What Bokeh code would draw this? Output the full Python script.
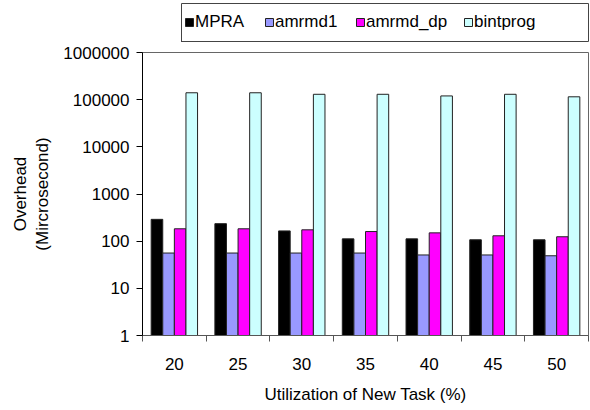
from bokeh.plotting import figure
from bokeh.layouts import column
from bokeh.models import (Range1d, FixedTicker, NumeralTickFormatter, Legend, LegendItem,
                          ColumnDataSource)
from bokeh.embed import file_html
from bokeh.resources import INLINE
import numpy as np

categories = ["20", "25", "30", "35", "40", "45", "50"]
series_names = ["MPRA", "amrmd1", "amrmd_dp", "bintprog"]
mpra = [290, 235, 165, 112, 112, 107, 107]
amrmd1 = [56, 56, 56, 56, 51, 51, 49]
amrmd_dp = [183, 183, 174, 160, 150, 130, 124]
bintprog = [140000, 140000, 130000, 130000, 120000, 130000, 115000]
y_ticks = [1, 10, 100, 1000, 10000, 100000, 1000000]

colors = ["#000000", "#9999FF", "#FF00FF", "#CCFFFF"]
FONT = "Liberation Sans"
FS = "17px"
BAR_LINE = "#222222"
# horizontal screen offsets (px, from the legend box's left edge) of each legend entry
legend_x = [3, 83, 174, 282]

# ---- legend strip (its frame outline is the legend box) ----
lg = figure(width=590, height=44, output_backend="svg", toolbar_location=None,
            x_range=Range1d(0, 1), y_range=Range1d(0, 1),
            x_axis_location=None, y_axis_location=None, frame_align=False,
            min_border_left=181, min_border_right=2, min_border_top=3, min_border_bottom=3)
lg.xgrid.visible = False
lg.ygrid.visible = False
lg.outline_line_color = "#444444"
lg.outline_line_width = 1
for name, col, lx in zip(series_names, colors, legend_x):
    # placeholder glyph outside the visible range: only its legend swatch is seen
    r = lg.vbar(x=[-5], top=[-5], bottom=[-6], width=0.1,
                fill_color=col, line_color=BAR_LINE, line_width=1)
    leg = Legend(items=[LegendItem(label=name, renderers=[r])], orientation="horizontal",
                 location=(lx, 9),
                 label_text_font=FONT, label_text_font_size=FS, label_text_color="black",
                 glyph_width=10, glyph_height=10, label_standoff=1, spacing=0,
                 padding=0, margin=0, label_height=20,
                 border_line_alpha=0, background_fill_alpha=0)
    lg.add_layout(leg, "center")

# ---- main chart ----
p = figure(width=590, height=366, output_backend="svg", toolbar_location=None,
           y_axis_type="log", x_range=Range1d(0, len(categories)),
           y_range=Range1d(1, 1000000), frame_align=False,
           min_border_left=142, min_border_right=2, min_border_top=8, min_border_bottom=75)

centers = np.arange(len(categories)) + 0.5
bw = 0.182
offsets = [-1.5 * bw, -0.5 * bw, 0.5 * bw, 1.5 * bw]
for vals, off, col in zip([mpra, amrmd1, amrmd_dp, bintprog], offsets, colors):
    src = ColumnDataSource(dict(x=centers + off, top=vals, bottom=[1] * len(vals)))
    p.vbar(x="x", top="top", bottom="bottom", width=bw, source=src,
           fill_color=col, line_color=BAR_LINE, line_width=1)

p.xgrid.visible = False
p.ygrid.visible = False
p.outline_line_color = "#666666"
p.outline_line_width = 1

xa = p.xaxis[0]
xa.ticker = FixedTicker(ticks=list(centers), minor_ticks=list(range(len(categories) + 1)))
xa.major_label_overrides = {float(c): lab for c, lab in zip(centers, categories)}
xa.major_tick_out = 0
xa.major_tick_in = 0
xa.minor_tick_out = 6
xa.minor_tick_in = 0
xa.minor_tick_line_color = "#555555"
xa.axis_line_color = "#555555"
xa.major_label_standoff = 16
xa.major_label_text_font = FONT
xa.major_label_text_font_size = FS
xa.major_label_text_color = "black"
xa.axis_label = "Utilization of New Task (%)"
xa.axis_label_text_font = FONT
xa.axis_label_text_font_size = FS
xa.axis_label_text_font_style = "normal"
xa.axis_label_text_color = "black"
xa.axis_label_standoff = 12

ya = p.yaxis[0]
ya.ticker = FixedTicker(ticks=y_ticks, minor_ticks=[])
ya.formatter = NumeralTickFormatter(format="0")
ya.major_tick_out = 6
ya.major_tick_in = 0
ya.minor_tick_out = 0
ya.minor_tick_in = 0
ya.axis_line_color = "black"
ya.major_label_standoff = 7
ya.major_label_text_font = FONT
ya.major_label_text_font_size = FS
ya.major_label_text_color = "black"
ya.axis_label = "Overhead\n(Mircrosecond)"
ya.axis_label_text_font = FONT
ya.axis_label_text_font_size = FS
ya.axis_label_text_font_style = "normal"
ya.axis_label_text_color = "black"
ya.axis_label_standoff = 8

layout = column(lg, p, spacing=0)
open("out.html", "w").write(file_html(layout, INLINE))
